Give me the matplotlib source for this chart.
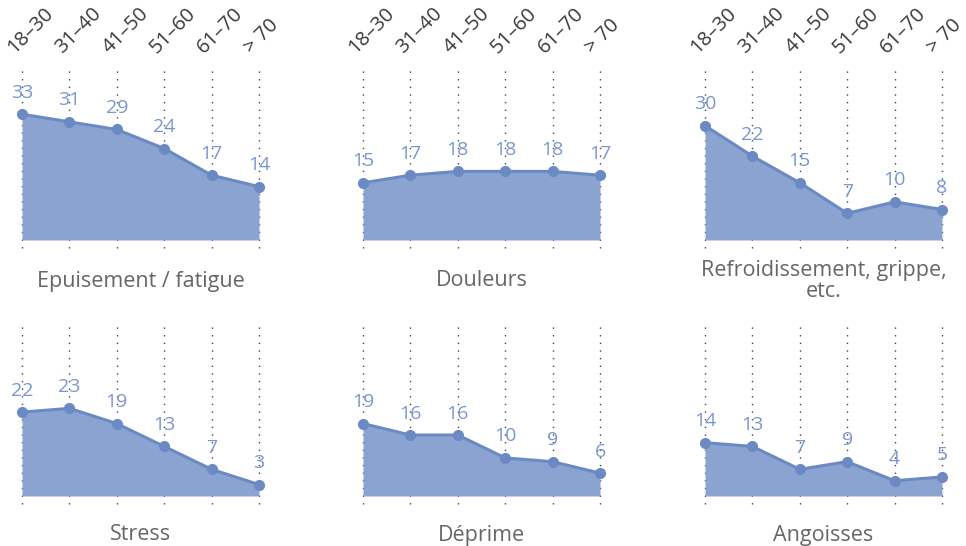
import matplotlib
matplotlib.use("Agg")
import matplotlib.pyplot as plt
from matplotlib.transforms import ScaledTranslation

age_groups = ["18–30", "31–40", "41–50", "51–60", "61–70", "> 70"]

titles = ["Epuisement / fatigue", "Douleurs", "Refroidissement, grippe,\netc.",
          "Stress", "Déprime", "Angoisses"]

epuisement = [33, 31, 29, 24, 17, 14]
douleurs = [15, 17, 18, 18, 18, 17]
refroidissement = [30, 22, 15, 7, 10, 8]
stress = [22, 23, 19, 13, 7, 3]
deprime = [19, 16, 16, 10, 9, 6]
angoisses = [14, 13, 7, 9, 4, 5]

series = [epuisement, douleurs, refroidissement, stress, deprime, angoisses]

FILL_COL = "#8aa3d1"
LINE_COL = "#6b8ac4"
LABEL_COL = "#7b96cf"
GRID_COL = "#444444"
TITLE_COL = "#666666"

plt.rcParams["font.family"] = ["Open Sans", "DejaVu Sans"]

W, H = 966, 546
fig = plt.figure(figsize=(W / 100, H / 100), dpi=100, facecolor="white")

col_left = [22, 363, 705]
col_w = 237
row_top = [70, 326]
row_h = 178
title_y = [281, 535]

x = list(range(len(age_groups)))

for i, (vals, title) in enumerate(zip(series, titles)):
    r, c = divmod(i, 3)
    left = col_left[c] / W
    bottom = 1 - (row_top[r] + row_h) / H
    ax = fig.add_axes([left, bottom, col_w / W, row_h / H])
    ax.set_xlim(0, 5)
    ax.set_ylim(-2.1, 44.6)
    ax.set_axisbelow(True)

    for xi in x:
        ax.axvline(xi, color=GRID_COL, linestyle=(0, (1, 4.5)), linewidth=1.0,
                   zorder=0, clip_on=False)

    ax.fill_between(x, 0, vals, color=FILL_COL, linewidth=0, zorder=2)
    ax.plot(x, vals, color=LINE_COL, linewidth=2.2, marker="o", markersize=7,
            clip_on=False, zorder=3)
    for xi, v in zip(x, vals):
        ax.annotate(str(v), (xi, v), xytext=(0, 9), textcoords="offset points",
                    ha="center", va="bottom", color=LABEL_COL, fontsize=14)

    ax.set_xticks([])
    ax.set_yticks([])
    for sp in ax.spines.values():
        sp.set_visible(False)

    if r == 0:
        offset = ScaledTranslation(-8 / 72, 14 / 72, fig.dpi_scale_trans)
        for xi, lab in zip(x, age_groups):
            ax.text(xi, 1.0, lab, transform=ax.get_xaxis_transform() + offset,
                    rotation=45, rotation_mode="anchor", ha="left", va="center",
                    color="#3a3a3a", fontsize=14.5)

    fig.text((col_left[c] + col_w / 2) / W, 1 - title_y[r] / H, title,
             ha="center", va="center", color=TITLE_COL, fontsize=15.5,
             linespacing=1.0)

fig.savefig("out.png", dpi=100, facecolor="white")
